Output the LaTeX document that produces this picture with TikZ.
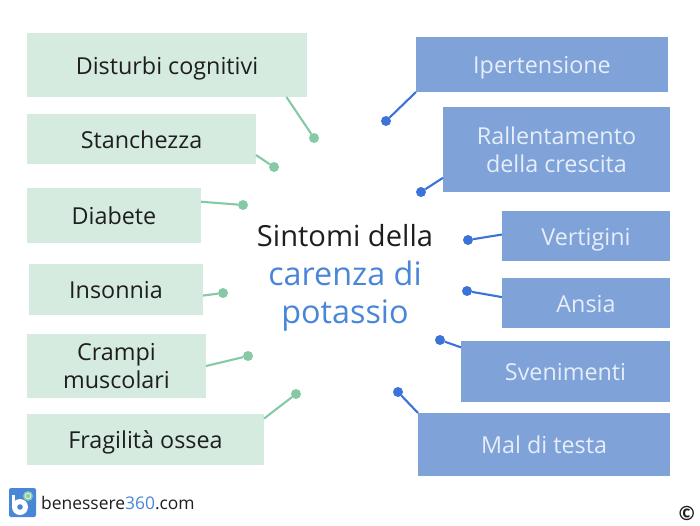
\documentclass[tikz,border=0pt]{standalone}
\usepackage{fontspec}
\usepackage{xcolor}
\setmainfont{Open Sans}
\definecolor{boxgreen}{HTML}{D5EBE0}
\definecolor{linegreen}{HTML}{85C9A6}
\definecolor{boxblue}{HTML}{7FA2D9}
\definecolor{lineblue}{HTML}{3B73D9}
\definecolor{titleblue}{HTML}{4A86D8}
\definecolor{textlight}{HTML}{E6EEF9}
\definecolor{textdark}{HTML}{1E1E1E}
\begin{document}
\begin{tikzpicture}[semithick]
    \tikzstyle{greenbox}=[fill=boxgreen, text=textdark, font=\fontsize{16.6}{20}\selectfont, align=center, outer sep=0pt, inner sep=0pt]
    \tikzstyle{bluebox}=[fill=boxblue, text=textlight, font=\fontsize{16.6}{20}\selectfont, align=center, outer sep=0pt, inner sep=0pt]
    \tikzstyle{oneline}=[text height=17pt, text depth=3.8pt]
    \tikzstyle{greendot}=[shape=circle, fill=linegreen, minimum size=0.25cm, inner sep=0pt, outer sep=0pt]
    \tikzstyle{bluedot}=[shape=circle, fill=lineblue, minimum size=0.25cm, inner sep=0pt, outer sep=0pt]
    \tikzstyle{greenline}=[draw=linegreen, line width=1.5pt]
    \tikzstyle{blueline}=[draw=lineblue, line width=1.5pt]
    \useasboundingbox (0,0) rectangle (17.5,13.125);
    % sinistra
    \node[greenbox, oneline, minimum width=7cm, minimum height=1.6cm] (disturbi) at (4.175,11.5) {Disturbi cognitivi};
    \node[greenbox, oneline, minimum width=5.725cm, minimum height=1.25cm] (stanchezza) at (3.5375,9.65) {Stanchezza};
    \node[greenbox, oneline, minimum width=4.35cm, minimum height=1.375cm] (diabete) at (2.85,7.7375) {Diabete};
    \node[greenbox, oneline, minimum width=4.35cm, minimum height=1.275cm] (insonnia) at (2.9,5.8875) {Insonnia};
    \node[greenbox, minimum width=4.475cm, minimum height=1.6cm] (crampi) at (2.9125,3.975) {Crampi\\muscolari};
    \node[greenbox, oneline, minimum width=5.925cm, minimum height=1.275cm] (fragilita) at (3.6375,2.1375) {Fragilità ossea};
    % destra
    \node[bluebox, oneline, minimum width=6.3cm, minimum height=1.375cm] (ipertensione) at (13.55,11.5125) {Ipertensione};
    \node[bluebox, minimum width=5.675cm, minimum height=2.125cm] (rallentamento) at (13.9125,9.3875) {Rallentamento\\della crescita};
    \node[bluebox, oneline, minimum width=4.2cm, minimum height=1.25cm] (vertigini) at (14.65,7.225) {Vertigini};
    \node[bluebox, oneline, minimum width=4.2cm, minimum height=1.25cm] (ansia) at (14.65,5.55) {Ansia};
    \node[bluebox, oneline, minimum width=5.225cm, minimum height=1.525cm] (svenimenti) at (14.1375,3.8375) {Svenimenti};
    \node[bluebox, oneline, minimum width=6.3cm, minimum height=1.575cm] (maltesta) at (13.6,2.0125) {Mal di testa};
    % punti
    \node[greendot] (ddisturbi) at (7.85,9.675) {};
    \node[greendot] (dstanchezza) at (6.85,8.95) {};
    \node[greendot] (ddiabete) at (6.075,8.0) {};
    \node[greendot] (dinsonnia) at (5.575,5.8) {};
    \node[greendot] (dcrampi) at (6.2,4.225) {};
    \node[greendot] (dfragilita) at (7.4,3.275) {};
    \node[bluedot] (dipertensione) at (9.65,10.1) {};
    \node[bluedot] (drallentamento) at (10.525,8.325) {};
    \node[bluedot] (dvertigini) at (11.7,7.125) {};
    \node[bluedot] (dansia) at (11.675,5.85) {};
    \node[bluedot] (dsvenimenti) at (11.0,4.625) {};
    \node[bluedot] (dmaltesta) at (9.95,3.325) {};
    % linee
    \draw[greenline] (disturbi.-15.4) -- (ddisturbi);
    \draw[greenline] (stanchezza.-8) -- (dstanchezza);
    \draw[greenline] (diabete.9.5) -- (ddiabete);
    \draw[greenline] (insonnia.-4.3) -- (dinsonnia);
    \draw[greenline] (crampi.-0.6) -- (dcrampi);
    \draw[greenline] (fragilita.10.75) -- (dfragilita);
    \draw[blueline] (ipertensione.south west) -- (dipertensione);
    \draw[blueline] (rallentamento.194.6) -- (drallentamento);
    \draw[blueline] (vertigini.179.3) -- (dvertigini);
    \draw[blueline] (ansia.176.6) -- (dansia);
    \draw[blueline] (svenimenti.167.8) -- (dsvenimenti);
    \draw[blueline] (maltesta.north west) -- (dmaltesta);
    % titolo
    \node[align=center, text=textdark, font=\fontsize{20.7}{27.2}\selectfont] (titolo) at (8.625,6.175) {Sintomi della\\{\fontsize{23}{27.2}\selectfont\textcolor{titleblue}{carenza di}}\\{\fontsize{23}{27.2}\selectfont\textcolor{titleblue}{potassio}}};
    % logo
    \fill[rounded corners=1.5pt, fill=titleblue] (0.225,0.2) rectangle (0.9,0.925);
    \fill[white] (0.29,0.45) rectangle (0.38,0.74);
    \fill[white] (0.5,0.45) circle (0.2);
    \fill[titleblue] (0.5,0.45) circle (0.07);
    \fill[linegreen] (0.7,0.725) circle (0.125);
    \fill[boxgreen] (0.7,0.725) circle (0.085);
    \fill[linegreen] (0.7,0.725) circle (0.05);
    \node[anchor=west, text=textdark, font=\fontsize{12.4}{14}\selectfont, inner sep=0pt] (marchio) at (1.02,0.55) {benessere\textcolor{titleblue}{360}.com};
    \node[text=textdark, font=\fontsize{14}{16}\selectfont\bfseries, inner sep=0pt] (copyright) at (17.17,0.29) {©};
    \end{tikzpicture}
\end{document}
